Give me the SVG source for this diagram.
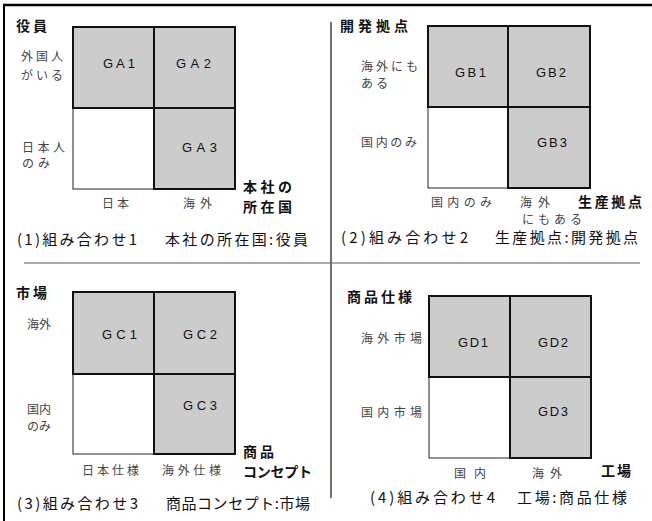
<svg xmlns="http://www.w3.org/2000/svg" width="652" height="521" viewBox="0 0 652 521">
<style>
text{font-family:"Noto Sans CJK JP","Noto Sans",sans-serif;}
.t{font-size:14px;font-weight:bold;fill:#111;}
.l{font-size:12px;fill:#444;}
.g{font-size:13px;fill:#111;font-family:"Liberation Sans","Noto Sans",sans-serif;}
.c{font-size:15px;fill:#111;}
.on{fill:#cccccc;stroke:#111;stroke-width:2;}
.off{fill:#ffffff;stroke:#222;stroke-width:1;}
</style>
<rect width="652" height="521" fill="#ffffff"/>
<g id="connectors">
<line x1="3" y1="5" x2="652" y2="5" stroke="#000" stroke-width="2.5"/>
<line x1="4" y1="4" x2="4" y2="521" stroke="#000" stroke-width="2"/>
<line x1="331" y1="22" x2="331" y2="498" stroke="#111" stroke-width="1.2"/>
<line x1="24" y1="263" x2="640" y2="263" stroke="#555" stroke-width="1"/>
</g>
<g id="panel1">
<g id="GA0"><rect class="off" x="73" y="108" width="81" height="81"/></g>
<g id="GA1"><rect class="on" x="73" y="27" width="81" height="81"/><text class="g" x="103" y="68" textLength="32">GA1</text></g>
<g id="GA2"><rect class="on" x="154" y="27" width="81" height="81"/><text class="g" x="176" y="68" textLength="35">GA2</text></g>
<g id="GA3"><rect class="on" x="154" y="108" width="81" height="81"/><text class="g" x="182" y="152" textLength="35">GA3</text></g>
<text class="t" x="16" y="31" textLength="31">役員</text>
<text class="l" x="21" y="61" textLength="42">外国人</text>
<text class="l" x="21" y="80" textLength="42">がいる</text>
<text class="l" x="22" y="152" textLength="43">日本人</text>
<text class="l" x="22" y="168" textLength="28">のみ</text>
<text class="l" x="102" y="208" textLength="27">日本</text>
<text class="l" x="183" y="208" textLength="29">海外</text>
<text class="t" x="243" y="192" textLength="49">本社の</text>
<text class="t" x="243" y="212" textLength="49">所在国</text>
<text class="c" x="17" y="245" textLength="120">(1)組み合わせ1</text>
<text class="c" x="165" y="245" textLength="143">本社の所在国:役員</text>
</g>
<g id="panel2">
<g id="GB0"><rect class="off" x="428" y="107" width="80" height="81"/></g>
<g id="GB1"><rect class="on" x="428" y="26" width="80" height="81"/><text class="g" x="455" y="77" textLength="31">GB1</text></g>
<g id="GB2"><rect class="on" x="508" y="26" width="82" height="81"/><text class="g" x="536" y="77" textLength="30">GB2</text></g>
<g id="GB3"><rect class="on" x="508" y="107" width="82" height="81"/><text class="g" x="537" y="147" textLength="30">GB3</text></g>
<text class="t" x="340" y="31" textLength="68">開発拠点</text>
<text class="l" x="361" y="71" textLength="57">海外にも</text>
<text class="l" x="361" y="88" textLength="27">ある</text>
<text class="l" x="361" y="147" textLength="56">国内のみ</text>
<text class="l" x="431" y="207" textLength="61">国内のみ</text>
<text class="l" x="520" y="207" textLength="30">海外</text>
<text class="l" x="522" y="224" textLength="60">にもある</text>
<text class="t" x="578" y="207" textLength="64">生産拠点</text>
<text class="c" x="341" y="243" textLength="127">(2)組み合わせ2</text>
<text class="c" x="495" y="243" textLength="143">生産拠点:開発拠点</text>
</g>
<g id="panel3">
<g id="GC0"><rect class="off" x="73" y="374" width="81" height="80"/></g>
<g id="GC1"><rect class="on" x="73" y="292" width="81" height="82"/><text class="g" x="102" y="339" textLength="35">GC1</text></g>
<g id="GC2"><rect class="on" x="154" y="292" width="81" height="82"/><text class="g" x="183" y="339" textLength="34">GC2</text></g>
<g id="GC3"><rect class="on" x="154" y="374" width="81" height="80"/><text class="g" x="183" y="410" textLength="34">GC3</text></g>
<text class="t" x="16" y="298" textLength="31">市場</text>
<text class="l" x="27" y="329" textLength="24">海外</text>
<text class="l" x="27" y="414" textLength="24">国内</text>
<text class="l" x="27" y="431" textLength="24">のみ</text>
<text class="t" x="243" y="457" textLength="31">商品</text>
<text class="t" x="243" y="477" textLength="69">コンセプト</text>
<text class="l" x="82" y="475" textLength="57">日本仕様</text>
<text class="l" x="162" y="475" textLength="59">海外仕様</text>
<text class="c" x="17" y="509" textLength="121">(3)組み合わせ3</text>
<text class="c" x="166" y="509" textLength="144">商品コンセプト:市場</text>
</g>
<g id="panel4">
<g id="GD0"><rect class="off" x="429" y="377" width="81" height="81"/></g>
<g id="GD1"><rect class="on" x="429" y="296" width="81" height="81"/><text class="g" x="458" y="347" textLength="30">GD1</text></g>
<g id="GD2"><rect class="on" x="510" y="296" width="81" height="81"/><text class="g" x="538" y="347" textLength="30">GD2</text></g>
<g id="GD3"><rect class="on" x="510" y="377" width="81" height="81"/><text class="g" x="538" y="416" textLength="30">GD3</text></g>
<text class="t" x="347" y="302" textLength="65">商品仕様</text>
<text class="l" x="361" y="343" textLength="61">海外市場</text>
<text class="l" x="361" y="417" textLength="61">国内市場</text>
<text class="l" x="454" y="478" textLength="32">国内</text>
<text class="l" x="532" y="478" textLength="30">海外</text>
<text class="t" x="601" y="476" textLength="30">工場</text>
<text class="c" x="370" y="503" textLength="125">(4)組み合わせ4</text>
<text class="c" x="517" y="503" textLength="110">工場:商品仕様</text>
</g>
</svg>
